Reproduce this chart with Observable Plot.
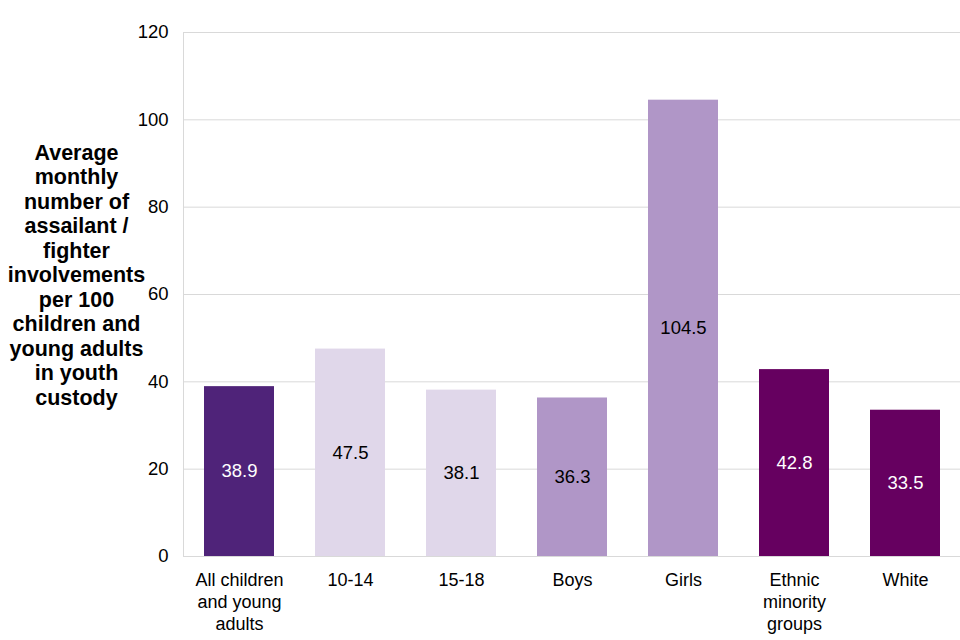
<!DOCTYPE html>
<html>
<head>
<meta charset="utf-8">
<script src="https://cdn.jsdelivr.net/npm/d3@7"></script>
<script src="https://cdn.jsdelivr.net/npm/@observablehq/plot@0.6"></script>
<style>
  html, body { margin: 0; padding: 0; background: #fff; }
  svg { font-family: "Liberation Sans", Arial, sans-serif; }
</style>
</head>
<body>
<div id="chart"></div>
<script>
const categories = ["All children\nand young\nadults", "10-14", "15-18", "Boys", "Girls", "Ethnic\nminority\ngroups", "White"];
const values = [38.9, 47.5, 38.1, 36.3, 104.5, 42.8, 33.5];
const barColors = ["#4f2379", "#e0d7ea", "#e0d7ea", "#b096c7", "#b096c7", "#660060", "#660060"];
const labelColors = ["#ffffff", "#000000", "#000000", "#000000", "#000000", "#ffffff", "#ffffff"];
const yTicks = [0, 20, 40, 60, 80, 100, 120];
const yTitle = "Average\nmonthly\nnumber of\nassailant /\nfighter\ninvolvements\nper 100\nchildren and\nyoung adults\nin youth\ncustody";

const data = categories.map((c, i) => ({cat: c, value: values[i], fill: barColors[i], lc: labelColors[i]}));

const chart = Plot.plot({
  width: 960,
  height: 640,
  marginTop: 32,
  marginBottom: 84,
  marginLeft: 183,
  marginRight: 0,
  style: {fontFamily: '"Liberation Sans", Arial, sans-serif', fontSize: "18px", color: "#000"},
  x: {domain: categories, paddingInner: 0.37, paddingOuter: 0.185, label: null},
  y: {domain: [0, 120], ticks: yTicks, label: null},
  marks: [
    Plot.gridY(yTicks, {stroke: "#d9d9d9", strokeOpacity: 1}),
    Plot.frame({anchor: "left", stroke: "#d9d9d9"}),
    Plot.frame({anchor: "bottom", stroke: "#d9d9d9"}),
    Plot.barY(data, {x: "cat", y: "value", fill: "fill"}),
    Plot.text(data, {x: "cat", y: d => d.value / 2, text: d => d.value.toFixed(1), fill: "lc", fontSize: 18.5}),
    Plot.axisY(yTicks, {tickSize: 0, tickPadding: 15, fontSize: 18.5, fill: "#000", label: null}),
    Plot.axisX({tickSize: 0, tickPadding: 14, fontSize: 18, lineHeight: 1.22, fill: "#000", label: null}),
    Plot.text([yTitle], {frameAnchor: "left", dx: -107, dy: -20, text: d => d, fontSize: 21.5, fontWeight: "bold", lineHeight: 1.14, textAnchor: "middle", fill: "#000"})
  ]
});
document.getElementById("chart").appendChild(chart);
</script>
</body>
</html>
